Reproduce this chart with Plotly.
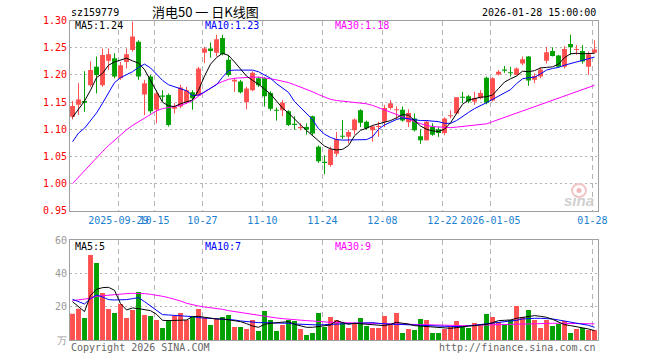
import plotly.graph_objects as go

# ---------------- data ----------------
dates = [
    "2025-09-17", "2025-09-18", "2025-09-19", "2025-09-22", "2025-09-23", "2025-09-24", "2025-09-25", "2025-09-26", "2025-09-29", "2025-09-30",
    "2025-10-09", "2025-10-10", "2025-10-13", "2025-10-14", "2025-10-15", "2025-10-16", "2025-10-17", "2025-10-20", "2025-10-21", "2025-10-22",
    "2025-10-23", "2025-10-24", "2025-10-27", "2025-10-28", "2025-10-29", "2025-10-30", "2025-10-31",
    "2025-11-03", "2025-11-04", "2025-11-05", "2025-11-06", "2025-11-07", "2025-11-10", "2025-11-11", "2025-11-12", "2025-11-13", "2025-11-14",
    "2025-11-17", "2025-11-18", "2025-11-19", "2025-11-20", "2025-11-21", "2025-11-24", "2025-11-25", "2025-11-26", "2025-11-27", "2025-11-28",
    "2025-12-01", "2025-12-02", "2025-12-03", "2025-12-04", "2025-12-05", "2025-12-08", "2025-12-09", "2025-12-10", "2025-12-11", "2025-12-12",
    "2025-12-15", "2025-12-16", "2025-12-17", "2025-12-18", "2025-12-19", "2025-12-22", "2025-12-23", "2025-12-24", "2025-12-25", "2025-12-26",
    "2025-12-29", "2025-12-30", "2025-12-31",
    "2026-01-05", "2026-01-06", "2026-01-07", "2026-01-08", "2026-01-09", "2026-01-12", "2026-01-13", "2026-01-14", "2026-01-15", "2026-01-16",
    "2026-01-19", "2026-01-20", "2026-01-21", "2026-01-22", "2026-01-23", "2026-01-26", "2026-01-27", "2026-01-28",
]

open_ = [1.123, 1.145, 1.152, 1.181, 1.215, 1.181, 1.226, 1.231, 1.194, 1.224,
         1.246, 1.261, 1.164, 1.197, 1.136, 1.162, 1.163, 1.138, 1.142, 1.150,
         1.168, 1.162, 1.241, 1.249, 1.241, 1.268, 1.228, 1.188, 1.188, 1.150,
         1.172, 1.194, 1.194, 1.167, 1.136, 1.135, 1.133, 1.110, 1.102, 1.104,
         1.124, 1.068, 1.040, 1.034, 1.055, 1.088, 1.086, 1.098, 1.135, 1.114,
         1.098, 1.104, 1.114, 1.139, 1.135, 1.136, 1.113, 1.120, 1.087, 1.080,
         1.104, 1.100, 1.093, 1.124, 1.129, 1.160, 1.161, 1.151, 1.157, 1.195,
         1.153, 1.201, 1.2095, 1.2045, 1.200, 1.221, 1.234, 1.191, 1.197, 1.226,
         1.244, 1.236, 1.215, 1.257, 1.246, 1.244, 1.215, 1.241]
high = [1.152, 1.185, 1.207, 1.225, 1.234, 1.249, 1.249, 1.240, 1.224, 1.249,
        1.298, 1.264, 1.191, 1.200, 1.172, 1.172, 1.166, 1.148, 1.182, 1.178,
        1.172, 1.215, 1.252, 1.260, 1.274, 1.274, 1.237, 1.194, 1.191, 1.178,
        1.207, 1.197, 1.196, 1.170, 1.140, 1.154, 1.135, 1.124, 1.111, 1.111,
        1.125, 1.070, 1.052, 1.068, 1.095, 1.117, 1.099, 1.120, 1.137, 1.116,
        1.107, 1.114, 1.145, 1.154, 1.142, 1.142, 1.137, 1.129, 1.100, 1.117,
        1.111, 1.104, 1.122, 1.135, 1.159, 1.169, 1.163, 1.169, 1.172, 1.197,
        1.196, 1.209, 1.2165, 1.215, 1.214, 1.234, 1.235, 1.203, 1.214, 1.252,
        1.251, 1.237, 1.253, 1.274, 1.255, 1.255, 1.243, 1.264]
low = [1.118, 1.126, 1.132, 1.178, 1.166, 1.178, 1.209, 1.194, 1.191, 1.212,
       1.243, 1.191, 1.126, 1.129, 1.111, 1.151, 1.105, 1.129, 1.139, 1.147,
       1.136, 1.161, 1.222, 1.232, 1.234, 1.236, 1.197, 1.169, 1.166, 1.137,
       1.170, 1.178, 1.142, 1.134, 1.116, 1.124, 1.106, 1.099, 1.098, 1.090,
       1.089, 1.038, 1.017, 1.031, 1.050, 1.082, 1.074, 1.090, 1.104, 1.099,
       1.077, 1.086, 1.104, 1.136, 1.118, 1.114, 1.104, 1.096, 1.073, 1.079,
       1.088, 1.086, 1.089, 1.120, 1.128, 1.148, 1.148, 1.145, 1.155, 1.146,
       1.151, 1.199, 1.204, 1.197, 1.199, 1.218, 1.180, 1.185, 1.194, 1.221,
       1.234, 1.214, 1.212, 1.237, 1.237, 1.221, 1.200, 1.240]
close = [1.143, 1.155, 1.149, 1.209, 1.200, 1.237, 1.238, 1.197, 1.218, 1.238,
         1.271, 1.197, 1.185, 1.133, 1.166, 1.160, 1.108, 1.141, 1.177, 1.172,
         1.157, 1.212, 1.249, 1.244, 1.266, 1.238, 1.200, 1.191, 1.168, 1.175,
         1.204, 1.181, 1.161, 1.138, 1.134, 1.149, 1.108, 1.108, 1.104, 1.099,
         1.092, 1.041, 1.038, 1.063, 1.082, 1.086, 1.095, 1.118, 1.112, 1.102,
         1.105, 1.106, 1.139, 1.148, 1.137, 1.116, 1.130, 1.098, 1.080, 1.114,
         1.090, 1.093, 1.120, 1.126, 1.159, 1.158, 1.151, 1.157, 1.167, 1.149,
         1.194, 1.206, 1.208, 1.203, 1.212, 1.229, 1.190, 1.198, 1.210, 1.242,
         1.235, 1.215, 1.248, 1.251, 1.2465, 1.225, 1.238, 1.247]

ma5 = [1.122, 1.138, 1.152, 1.172, 1.195, 1.203, 1.218, 1.224, 1.228, 1.231,
       1.226, 1.222, 1.210, 1.190, 1.170, 1.150, 1.143, 1.142, 1.147, 1.150,
       1.154, 1.172, 1.198, 1.220, 1.232, 1.240, 1.236, 1.224, 1.212, 1.198,
       1.190, 1.183, 1.174, 1.165, 1.152, 1.139, 1.130, 1.118, 1.108, 1.098,
       1.088, 1.079, 1.069, 1.064, 1.062, 1.063, 1.070, 1.088, 1.098, 1.102,
       1.107, 1.110, 1.113, 1.116, 1.121, 1.127, 1.126, 1.116, 1.106, 1.100,
       1.097, 1.096, 1.100, 1.112, 1.130, 1.146, 1.154, 1.157, 1.159, 1.160,
       1.163, 1.175, 1.187, 1.193, 1.198, 1.207, 1.206, 1.208, 1.213, 1.214,
       1.215, 1.220, 1.232, 1.239, 1.240, 1.239, 1.239, 1.240]
ma10 = [1.077, 1.093, 1.102, 1.116, 1.130, 1.148, 1.166, 1.186, 1.195, 1.200,
        1.206, 1.214, 1.220, 1.213, 1.201, 1.190, 1.182, 1.178, 1.175, 1.171,
        1.162, 1.163, 1.169, 1.176, 1.182, 1.196, 1.208, 1.209, 1.209, 1.209,
        1.209, 1.206, 1.200, 1.194, 1.184, 1.176, 1.168, 1.151, 1.140, 1.128,
        1.118, 1.101, 1.091, 1.085, 1.081, 1.080, 1.080, 1.080, 1.080, 1.081,
        1.086, 1.100, 1.108, 1.113, 1.118, 1.121, 1.119, 1.117, 1.116, 1.116,
        1.115, 1.114, 1.111, 1.111, 1.116, 1.124, 1.131, 1.138, 1.143, 1.149,
        1.155, 1.161, 1.166, 1.173, 1.184, 1.193, 1.195, 1.196, 1.202, 1.209,
        1.212, 1.214, 1.218, 1.221, 1.224, 1.227, 1.230, 1.233]
ma30 = [1.000, 1.012, 1.024, 1.036, 1.048, 1.059, 1.070, 1.080, 1.090, 1.099,
        1.107, 1.114, 1.121, 1.128, 1.134, 1.138, 1.140, 1.141, 1.144, 1.148,
        1.153, 1.161, 1.168, 1.176, 1.183, 1.188, 1.192, 1.194, 1.195, 1.195,
        1.196, 1.196, 1.195, 1.193, 1.191, 1.189, 1.186, 1.182, 1.178, 1.174,
        1.169, 1.164, 1.159, 1.155, 1.153, 1.152, 1.151, 1.150, 1.149, 1.147,
        1.144, 1.140, 1.136, 1.132, 1.127, 1.123, 1.119, 1.114, 1.110, 1.107,
        1.105, 1.104, 1.103, 1.103, 1.104, 1.105, 1.106, 1.107, 1.108, 1.110,
        1.114, 1.118, 1.122, 1.126, 1.130, 1.133, 1.137, 1.141, 1.145, 1.149,
        1.153, 1.157, 1.161, 1.165, 1.169, 1.173, 1.177, 1.181]

volume = [16, 19, 13.4, 51.2, 46.4, 28.4, 18.8, 16.4, 21.8, 13.4,
          18.2, 29, 15.2, 14.6, 12.2, 7.4, 12.2, 14.6, 16.4, 12.2,
          14, 18.8, 13.4, 9.2, 12.8, 14, 15.2, 8, 8, 6.8,
          12.2, 5.6, 17.6, 12.2, 5.6, 9.2, 12.2, 11.6, 6.8, 3.2,
          4.4, 16.4, 8, 14, 12.2, 10.4, 7.4, 9.8, 13.4, 8.6,
          7.4, 7.4, 14.6, 9.2, 16.4, 4.4, 6.8, 6.2, 12.8, 12.2,
          4.4, 4.4, 6.8, 8, 11.6, 8, 7.4, 10.4, 8.6, 15.8,
          14, 11, 9.2, 12.2, 20.6, 14, 18.2, 12.2, 7.4, 12.2,
          8.6, 9.8, 11.6, 4.4, 6.8, 7.4, 6.2, 6.2]
vma5 = [23.2, 20.2, 17.2, 27, 30.6, 31.6, 31.8, 30, 22, 18.2,
        19.4, 19, 18.2, 17.8, 15.6, 12, 11.8, 11.8, 12, 12.2,
        14.2, 14.4, 13.8, 13.2, 12.8, 12.8, 12.4, 11.8, 11.2, 10,
        8.6, 7.8, 9.6, 10.2, 10.4, 10.6, 11.2, 9.6, 8.6, 7.8,
        7.8, 8.2, 8.6, 9.2, 11.8, 10.6, 9.6, 10.2, 10, 9.6,
        9.6, 9.2, 8.8, 9.6, 10.8, 10.2, 9.8, 8.8, 8.6, 8.4,
        8.2, 7.6, 7.4, 7.2, 7.6, 8.2, 8.6, 8.8, 9.2, 9.6,
        10.6, 11.8, 12, 12.2, 13.2, 13.8, 14.2, 14.8, 14.4, 13.8,
        12.6, 11, 9.4, 8.8, 8.2, 7.6, 6.8, 5.8]
vma10 = [24.6, 23.2, 21.8, 25, 27.2, 26, 24.4, 24.2, 24.2, 24.4,
         25, 25.6, 23.2, 20.6, 18.2, 15.4, 15.2, 15, 14.8, 14.6,
         14.2, 13.6, 13.4, 13.2, 12.8, 12.8, 12.6, 12.2, 11.6, 11.2,
         11, 10.6, 10.6, 10.6, 10.6, 10.4, 10.2, 9.8, 9.6, 9.4,
         9.2, 9.2, 9.4, 9.6, 9.8, 9.8, 9.8, 10.2, 10.6, 10.8,
         10.6, 10.2, 9.8, 9.6, 9.6, 9.4, 9.2, 9.0, 8.8, 8.6,
         8.6, 8.4, 8.4, 8.3, 8.2, 8.2, 8.6, 9, 9.4, 9.8,
         10.6, 11, 11.2, 11.4, 12, 12.8, 13.2, 13.2, 13.2, 13.2,
         12.8, 12.2, 11.6, 11, 10.6, 9.8, 9.0, 7.8]
vma30 = [23.8, 24.2, 24.6, 25.2, 26.4, 26.8, 27.2, 27.6, 27.8, 28,
         28.2, 28.2, 28, 27.6, 27.2, 26.4, 25.6, 24.8, 23.6, 22.2,
         21.2, 20.6, 20, 19.6, 19.2, 18.6, 17.8, 17.2, 16.6, 16.2,
         15.6, 15, 14.4, 13.8, 13.4, 13, 12.6, 12.4, 12, 11.8,
         11.6, 11.2, 11, 10.8, 10.7, 10.6, 10.5, 10.4, 10.3, 10.2,
         10.1, 10, 9.9, 9.8, 9.6, 9.5, 9.4, 9.3, 9.2, 9.2,
         9.1, 9, 9, 8.9, 8.8, 8.8, 8.9, 9, 9.2, 9.4,
         9.6, 9.7, 9.8, 9.9, 10, 10.1, 10.2, 10.2, 10.2, 10.2,
         10.2, 10.2, 10.2, 10.1, 10.1, 10, 9.9, 9.9]

tick_dates = ["2025-09-29", "2025-10-15", "2025-10-27", "2025-11-10", "2025-11-24",
              "2025-12-08", "2025-12-22", "2026-01-05", "2026-01-28"]
tick_text = ["2025-09-29", "10-15", "10-27", "11-10", "11-24", "12-08", "12-22", "2026-01-05", "01-28"]
price_ticks = [0.95, 1.00, 1.05, 1.10, 1.15, 1.20, 1.25, 1.30]
vol_ticks = [0, 20, 40, 60]
vol_tick_text = ["万", "20", "40", "60"]

# ---------------- styling ----------------
W, H = 660, 360
RED = "#ff5050"
GREEN = "#00a000"
MONO = "DejaVu Sans Mono, Liberation Mono, monospace"
CJK = "Noto Sans CJK SC"


def fx(p):
    return p / W


def fy(p):
    return 1 - p / H


idx = list(range(len(dates)))
up = [c >= o for o, c in zip(open_, close)]
colors = [RED if u else GREEN for u in up]
body_base = [min(o, c) for o, c in zip(open_, close)]
body_h = [max(abs(c - o), 0.0019) for o, c in zip(open_, close)]

fig = go.Figure()

# wicks
for flag, col in ((True, RED), (False, GREEN)):
    wx, wy = [], []
    for i in idx:
        if up[i] == flag:
            wx += [i, i, None]
            wy += [low[i], high[i], None]
    fig.add_trace(go.Scatter(x=wx, y=wy, mode="lines", line=dict(color=col, width=1),
                             xaxis="x", yaxis="y", hoverinfo="skip", showlegend=False))

# bodies
fig.add_trace(go.Bar(x=idx, y=body_h, base=body_base, width=0.82,
                     marker=dict(color=colors, line=dict(width=0)),
                     xaxis="x", yaxis="y", showlegend=False))

# price MAs
for arr, col in ((ma30, "#ff00ff"), (ma10, "#0000ff"), (ma5, "#000000")):
    fig.add_trace(go.Scatter(x=idx, y=arr, mode="lines", line=dict(color=col, width=1),
                             xaxis="x", yaxis="y", showlegend=False))

# volume
fig.add_trace(go.Bar(x=idx, y=volume, width=0.82,
                     marker=dict(color=colors, line=dict(width=0)),
                     xaxis="x2", yaxis="y2", showlegend=False))
for arr, col in ((vma30, "#ff00ff"), (vma10, "#0000ff"), (vma5, "#000000")):
    fig.add_trace(go.Scatter(x=idx, y=arr, mode="lines", line=dict(color=col, width=1),
                             xaxis="x2", yaxis="y2", showlegend=False))

tick_pos = [dates.index(d) - 0.35 for d in tick_dates]
xdom = [fx(70), fx(597.7)]
xrange_ = [-0.42, len(dates) - 0.47]
grid_col = "#b4b4b4"
frame_col = "#a0a0a0"

common_x = dict(domain=xdom, range=xrange_, tickvals=tick_pos, showgrid=True,
                gridcolor=grid_col, griddash="5px,4px", gridwidth=1,
                showline=True, mirror=True, linecolor=frame_col, linewidth=1,
                zeroline=False, ticks="", fixedrange=True, automargin=False,
                tickangle=0)
common_y = dict(showgrid=True, gridcolor=grid_col, griddash="2px,3px", gridwidth=1,
                showline=True, mirror=True, linecolor=frame_col, linewidth=1,
                zeroline=False, ticks="", fixedrange=True, automargin=False)

fig.update_layout(
    template="none",
    width=W, height=H, autosize=False,
    margin=dict(l=0, r=0, t=0, b=0, pad=0),
    paper_bgcolor="white", plot_bgcolor="white",
    barmode="overlay", showlegend=False,
    xaxis=dict(**common_x, anchor="y", ticktext=tick_text,
               tickfont=dict(family=MONO, size=10, color="#1a80d0")),
    yaxis=dict(**common_y, domain=[fy(210.7), fy(20.7)], range=[0.95, 1.30], anchor="x",
               tickvals=price_ticks, ticktext=["%.2f" % v for v in price_ticks],
               tickfont=dict(family=MONO, size=10, color="#ff0000")),
    xaxis2=dict(**common_x, anchor="y2", showticklabels=False),
    yaxis2=dict(**common_y, domain=[fy(340.3), fy(240.3)], range=[0, 60], anchor="x2",
                tickvals=vol_ticks, ticktext=vol_tick_text,
                tickfont=dict(family=MONO, size=10, color="#999999")),
)


def txt(s, x, y, color="#000000", size=10, anchor="left", family=MONO, **kw):
    fig.add_annotation(text=s, x=fx(x), y=fy(y), xref="paper", yref="paper",
                       xanchor=anchor, yanchor="middle", showarrow=False,
                       font=dict(family=family, size=size, color=color), **kw)


txt("sz159779", 69, 13)
txt("消电50 一 日K线图", 205, 12, size=13, anchor="center", family=CJK)
txt("2026-01-28 15:00:00", 598, 13, anchor="right")
txt("MA5:%.2f" % ma5[-1], 73, 26)
txt("MA10:%.2f" % ma10[-1], 203, 26, color="#0000ff")
txt("MA30:%.2f" % ma30[-1], 333, 26, color="#ff00ff")
txt("MA5:%d" % int(vma5[-1]), 73, 246)
txt("MA10:%d" % int(vma10[-1]), 203, 246, color="#0000ff")
txt("MA30:%d" % int(vma30[-1]), 333, 246, color="#ff00ff")
txt("Copyright 2026 SINA.COM", 69, 347, color="#666666")
txt("http://finance.sina.com.cn", 598, 347, color="#666666", anchor="right")

# faint sina watermark (eye logo + word)
fig.add_shape(type="circle", xref="paper", yref="paper",
              x0=fx(572), x1=fx(586), y0=fy(197), y1=fy(184),
              line=dict(color="#f3c4c4", width=2), fillcolor="rgba(0,0,0,0)")
fig.add_shape(type="circle", xref="paper", yref="paper",
              x0=fx(576.5), x1=fx(581.5), y0=fy(193), y1=fy(188),
              line=dict(width=0), fillcolor="#f3b8b8")
txt("<i><b>sina</b></i>", 596, 200, color="#d0d0d0", size=15, anchor="right", family="Liberation Sans")

fig.write_html("out.html", include_plotlyjs=True,
               config={"displayModeBar": False, "staticPlot": True},
               post_script="document.body.style.margin='0px';document.body.style.padding='0px';")
